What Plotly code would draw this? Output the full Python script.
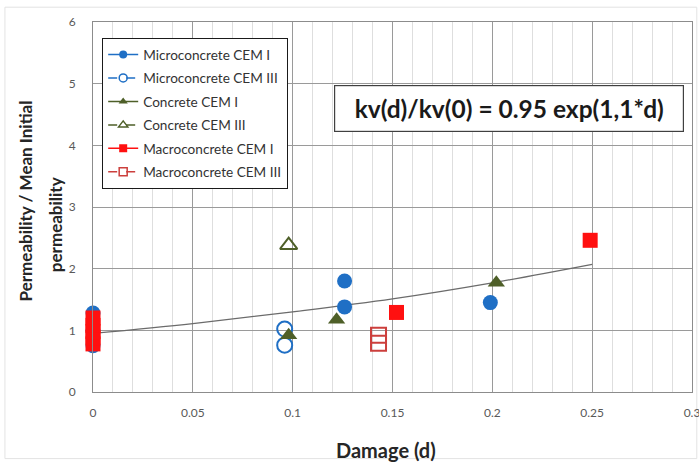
import plotly.graph_objects as go

# ---- measured data: normalised permeability vs damage ----
micro_cem1_d = [0, 0, 0, 0.126, 0.126, 0.199]
micro_cem1_k = [0.75, 1.0, 1.28, 1.80, 1.38, 1.45]

micro_cem3_d = [0.096, 0.096]
micro_cem3_k = [1.02, 0.76]

concrete_cem1_d = [0.098, 0.122, 0.202]
concrete_cem1_k = [0.92, 1.17, 1.77]

concrete_cem3_d = [0.098]
concrete_cem3_k = [2.38]

macro_cem1_d = [0, 0, 0, 0, 0, 0.152, 0.249]
macro_cem1_k = [0.78, 0.88, 0.98, 1.08, 1.20, 1.29, 2.46]

macro_cem3_d = [0.143, 0.143]
macro_cem3_k = [0.92, 0.79]

# trend curve, read along the drawn fit
fit_d = [0, 0.05, 0.10, 0.15, 0.20, 0.25]
fit_k = [0.95, 1.11, 1.30, 1.51, 1.77, 2.07]

x_ticks = [0, 0.05, 0.1, 0.15, 0.2, 0.25, 0.3]
y_ticks = [0, 1, 2, 3, 4, 5, 6]

series_names = ["Microconcrete CEM I", "Microconcrete CEM III", "Concrete CEM I",
                "Concrete CEM III", "Macroconcrete CEM I", "Macroconcrete CEM III"]
equation_text = "kv(d)/kv(0) = 0.95 exp(1,1*d)"

BLUE = "#1f6fc5"
OLIVE = "#4e5f28"
RED = "#ff1010"
DARKRED = "#cc3f3c"
FONT = "Lato"

styles = [
    dict(symbol="circle", color=BLUE, line=dict(width=0), dash="solid", lc=BLUE),
    dict(symbol="circle-open", color=BLUE, line=dict(width=2, color=BLUE), dash="dash", lc=BLUE),
    dict(symbol="triangle-up", color=OLIVE, line=dict(width=0), dash="solid", lc=OLIVE),
    dict(symbol="triangle-up-open", color=OLIVE, line=dict(width=2, color=OLIVE), dash="dash", lc=OLIVE),
    dict(symbol="square", color=RED, line=dict(width=0), dash="solid", lc=RED),
    dict(symbol="square-open", color=DARKRED, line=dict(width=2, color=DARKRED), dash="dash", lc=DARKRED),
]
datasets = [
    (micro_cem1_d, micro_cem1_k),
    (micro_cem3_d, micro_cem3_k),
    (concrete_cem1_d, concrete_cem1_k),
    (concrete_cem3_d, concrete_cem3_k),
    (macro_cem1_d, macro_cem1_k),
    (macro_cem3_d, macro_cem3_k),
]

fig = go.Figure()

# fitted exponential trend
fig.add_trace(go.Scatter(
    x=fit_d, y=fit_k, mode="lines", line=dict(color="#6b6b6b", width=1.2, shape="spline"),
    showlegend=False, hoverinfo="skip"))

# measured points
for name, (xs, ys), st in zip(series_names, datasets, styles):
    fig.add_trace(go.Scatter(
        x=xs, y=ys, mode="markers", name=name, showlegend=False, cliponaxis=False,
        marker=dict(symbol=st["symbol"], size=15, color=st["color"], line=st["line"])))

# legend entries (line + small marker, as in the spreadsheet legend)
for i, (name, st) in enumerate(zip(series_names, styles)):
    fig.add_trace(go.Scatter(
        x=[None], y=[None], mode="lines+markers", name=name, legendgroup=f"g{i}",
        line=dict(color=st["lc"], width=1.5, dash=st["dash"]),
        marker=dict(symbol=st["symbol"], size=8, color=st["color"],
                    line=dict(width=1.5, color=st["lc"]) if "open" in st["symbol"] else dict(width=0))))

axis_common = dict(
    showline=True, linecolor="#8c8c8c", linewidth=1, mirror=True,
    zeroline=False, ticks="", automargin=False,
    tickfont=dict(family=FONT, size=12, color="#595959"),
)

fig.update_xaxes(
    range=[0, 0.3], tickvals=x_ticks, ticktext=[f"{v:g}" for v in x_ticks],
    showgrid=True, gridcolor="#9a9a9a", gridwidth=1,
    minor=dict(dtick=0.01, showgrid=True, gridcolor="#dedede", gridwidth=1),
    ticklabelstandoff=10, ticklabeloverflow="allow", **axis_common)
fig.update_yaxes(
    range=[0, 6], tickvals=y_ticks, ticktext=[str(v) for v in y_ticks],
    showgrid=True, gridcolor="#9a9a9a", gridwidth=1,
    ticklabelstandoff=14, **axis_common)

fig.update_layout(
    width=699, height=463,
    margin=dict(l=93, r=7, t=22, b=71, autoexpand=False),
    paper_bgcolor="white", plot_bgcolor="white",
    font=dict(family=FONT, color="#262626"),
    legend=dict(
        x=0.015, y=0.957, xanchor="left", yanchor="top",
        bgcolor="white", bordercolor="#1a1a1a", borderwidth=1.2,
        font=dict(family=FONT, size=13.6, color="#333333"),
        itemwidth=30, tracegroupgap=2.8, traceorder="grouped",
    ),
    annotations=[
        dict(text=equation_text, xref="paper", yref="paper", x=0.6945, y=0.766,
             xanchor="center", yanchor="middle", showarrow=False,
             font=dict(family=FONT, size=24.5, color="#1a1a1a", weight="bold"),
             width=344, height=41, bgcolor="white", bordercolor="#404040",
             borderwidth=1.2, borderpad=2),
        dict(text="Permeability / Mean Initial", xref="paper", yref="paper",
             x=-0.1135, y=0.515, xanchor="center", yanchor="middle", textangle=-90,
             showarrow=False, font=dict(family=FONT, size=17, color="#262626", weight="bold")),
        dict(text="permeability", xref="paper", yref="paper",
             x=-0.0634, y=0.451, xanchor="center", yanchor="middle", textangle=-90,
             showarrow=False, font=dict(family=FONT, size=17, color="#262626", weight="bold")),
        dict(text="Damage (d)", xref="paper", yref="paper", x=0.489, y=-0.157,
             xanchor="center", yanchor="middle", showarrow=False,
             font=dict(family=FONT, size=20, color="#262626", weight="bold")),
    ],
    shapes=[
        dict(type="rect", xref="paper", yref="paper", x0=-0.147, x1=1.008, y0=-0.18, y1=1.04,
             line=dict(color="#e3e3e3", width=1), layer="below"),
    ],
)

fig.write_html("out.html")
